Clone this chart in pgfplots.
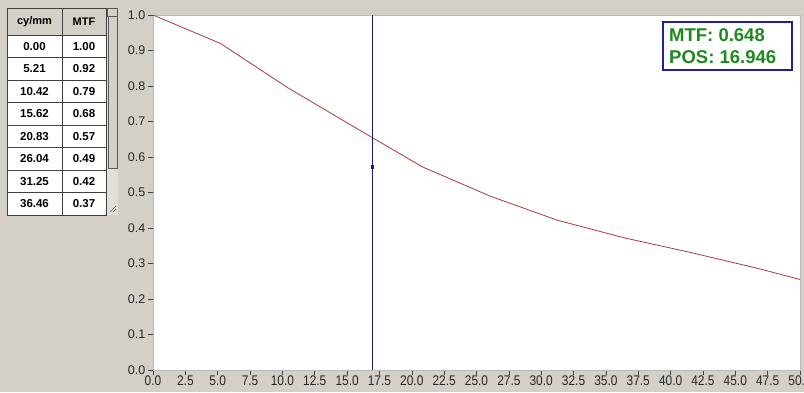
\documentclass[border=0pt]{standalone}
\usepackage{pgfplots}
\pgfplotsset{compat=1.18}
\usepackage{fontspec}
\setmainfont{Liberation Sans}[BoldFont={Liberation Sans Bold}]
\newfontfamily\boldsans{Liberation Sans Bold}
\newfontfamily\xtickfont{Liberation Sans}[FakeStretch=0.85]
\definecolor{bg}{HTML}{D4D0C8}
\definecolor{curvered}{HTML}{B03A3A}
\definecolor{cursorblue}{HTML}{1C1C8C}
\definecolor{boxblue}{HTML}{1F1FA0}
\definecolor{boxgreen}{HTML}{1E8A1E}
\definecolor{gridline}{HTML}{404040}
\begin{document}
\begin{tikzpicture}[x=1pt,y=1pt]
\fill[bg] (0,0) rectangle (804,392);
% ---- table ----
\fill[bg] (7,384) rectangle (106,357);
\fill[white] (7,357) rectangle (106,177);
\draw[gridline, line width=0.8pt] (7,384) rectangle (106,177);
\draw[gridline, line width=0.8pt] (62,384) -- (62,177);
\foreach \k in {0,...,7} {
  \draw[gridline, line width=0.8pt] (7,{357-22.5*\k}) -- (106,{357-22.5*\k});
}
\node[font=\boldsans\fontsize{11}{12}\selectfont] at (34.5,370.5) {cy/mm};
\node[font=\boldsans\fontsize{11}{12}\selectfont] at (84,370.5) {MTF};
\foreach \a/\b [count=\i from 0] in {0.00/1.00,5.21/0.92,10.42/0.79,15.62/0.68,20.83/0.57,26.04/0.49,31.25/0.42,36.46/0.37} {
  \node[font=\boldsans\fontsize{11.5}{12}\selectfont] at (34.5,{357-22.5*\i-11.25}) {\a};
  \node[font=\boldsans\fontsize{11.5}{12}\selectfont] at (84,{357-22.5*\i-11.25}) {\b};
}
% scrollbar
\fill[bg!70!white] (107,384) rectangle (118,177);
\draw[gray!70!black, fill=bg] (107.5,384) rectangle (117.5,376);
\draw[gray!70!black, fill=bg] (108,376) rectangle (117,224);
\draw[gray!70!black, line width=0.5pt] (110,180) -- (116,186) (113,180) -- (116,183);
% ---- axis ----
\begin{axis}[
  at={(153pt,22pt)}, anchor=south west,
  scale only axis, width=647pt, height=355pt,
  xmin=0, xmax=50, ymin=0, ymax=1,
  xtick={0,2.5,5,7.5,10,12.5,15,17.5,20,22.5,25,27.5,30,32.5,35,37.5,40,42.5,45,47.5,50},
  ytick={0,0.1,0.2,0.3,0.4,0.5,0.6,0.7,0.8,0.9,1},
  xtick pos=bottom, ytick pos=left,
  tick align=outside, major tick length=5pt,
  tick style={black!75, line width=0.6pt},
  axis background/.style={fill=white},
  axis line style={draw=gray!55},
  yticklabel style={font=\fontsize{12.5}{13}\selectfont, text=black!85, inner sep=2.5pt, /pgf/number format/.cd, fixed, fixed zerofill, precision=1},
  xticklabel style={font=\xtickfont\fontsize{14}{15}\selectfont, text=black!85, inner sep=0.8pt, /pgf/number format/.cd, fixed, fixed zerofill, precision=1},
  /pgf/number format/assume math mode=true,
  clip=true,
]
\addplot[draw=curvered, line width=0.8pt] coordinates {
 (0,1.00) (5.21,0.92) (10.42,0.795) (15.62,0.683) (20.83,0.572) (26.04,0.49) (31.25,0.422) (36.46,0.372) (41.67,0.33) (46.88,0.285) (50,0.255)
};
\addplot[draw=cursorblue, line width=0.9pt] coordinates {(16.946,0) (16.946,1)};
\addplot[only marks, mark=square*, mark size=1.4pt, color=cursorblue] coordinates {(16.946,0.573)};
\end{axis}
% ---- readout box ----
\fill[white] (663,370) rectangle (792,322);
\draw[boxblue, line width=1.8pt] (663,370) rectangle (792,322);
\node[anchor=base west, text=boxgreen, font=\boldsans\fontsize{18.5}{20}\selectfont, inner sep=0pt] at (669,350) {MTF: 0.648};
\node[anchor=base west, text=boxgreen, font=\boldsans\fontsize{18.5}{20}\selectfont, inner sep=0pt] at (669,329) {POS: 16.946};
\pgfresetboundingbox
\useasboundingbox (0,0) rectangle (804,392);
\end{tikzpicture}
\end{document}
